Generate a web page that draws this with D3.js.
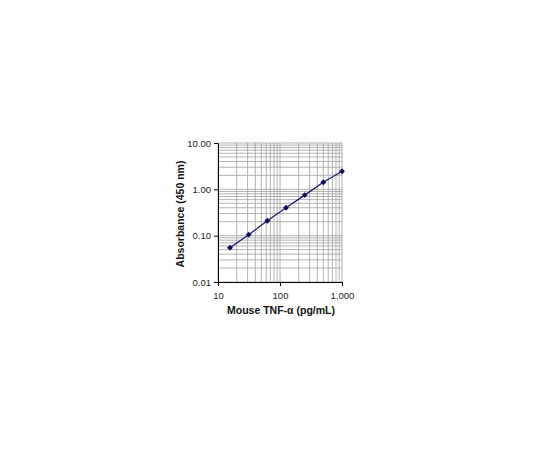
<!DOCTYPE html>
<html>
<head>
<meta charset="utf-8">
<script src="https://cdn.jsdelivr.net/npm/d3@7"></script>
<style>
  body { margin: 0; background: #fff; }
  text { font-family: "Liberation Sans", Arial, sans-serif; }
</style>
</head>
<body>
<svg id="chart" width="540" height="450"></svg>
<script>
const concentrations = [15.6, 31.25, 62.5, 125, 250, 500, 1000];
const absorbance = [0.055, 0.105, 0.21, 0.40, 0.75, 1.42, 2.45];
const xTicks = [10, 100, 1000];
const yTicks = [0.01, 0.1, 1, 10];

const svg = d3.select("#chart");
const x = d3.scaleLog().domain([10, 1000]).range([218, 342]);
const y = d3.scaleLog().domain([0.01, 10]).range([282, 143]);

// minor grid (2..9 in each decade)
const minorX = [], minorY = [];
for (const d of [10, 100]) for (let k = 1; k <= 9; k++) minorX.push(d * k);
for (const d of [0.01, 0.1, 1]) for (let k = 1; k <= 9; k++) minorY.push(d * k);

svg.append("g").selectAll("line").data(minorY).join("line")
  .attr("x1", 218).attr("x2", 342)
  .attr("y1", d => y(d)).attr("y2", d => y(d))
  .attr("stroke", "#a0a0a0").attr("stroke-width", 0.8);
svg.append("g").selectAll("line").data(minorX).join("line")
  .attr("y1", 143).attr("y2", 282)
  .attr("x1", d => x(d)).attr("x2", d => x(d))
  .attr("stroke", "#a0a0a0").attr("stroke-width", 0.8);

// frame top/right
svg.append("line").attr("x1", 218).attr("x2", 342).attr("y1", 143).attr("y2", 143)
  .attr("stroke", "#a0a0a0").attr("stroke-width", 0.8);
svg.append("line").attr("x1", 342).attr("x2", 342).attr("y1", 143).attr("y2", 282)
  .attr("stroke", "#a0a0a0").attr("stroke-width", 0.8);

// axes
const fmtY = d3.format(".2f");
const fmtX = d3.format(",");
const xAxis = svg.append("g").attr("transform", "translate(0,282)")
  .call(d3.axisBottom(x).tickValues(xTicks).tickFormat(fmtX).tickSize(4).tickSizeOuter(0));
const yAxis = svg.append("g").attr("transform", "translate(218,0)")
  .call(d3.axisLeft(y).tickValues(yTicks).tickFormat(fmtY).tickSize(4).tickSizeOuter(0));
for (const a of [xAxis, yAxis]) {
  a.select(".domain").attr("stroke", "#000");
  a.selectAll(".tick line").attr("stroke", "#000");
  a.selectAll(".tick text").attr("fill", "#222").style("font-size", "9.5px")
    .style("font-family", "'Liberation Sans', Arial, sans-serif");
}
xAxis.selectAll(".tick text").attr("dy", "1.05em");
yAxis.selectAll(".tick text").attr("x", -7);

// series
const pts = concentrations.map((c, i) => [c, absorbance[i]]);
svg.append("path").datum(pts)
  .attr("fill", "none").attr("stroke", "#1a1a6e").attr("stroke-width", 1.3)
  .attr("d", d3.line().x(d => x(d[0])).y(d => y(d[1])));
svg.append("g").selectAll("path").data(pts).join("path")
  .attr("transform", d => `translate(${x(d[0])},${y(d[1])})`)
  .attr("d", d3.symbol(d3.symbolDiamond2, 22))
  .attr("fill", "#0d0d5a");

// titles
svg.append("text").attr("x", 281).attr("y", 314).attr("text-anchor", "middle")
  .style("font-size", "10.5px").style("font-weight", "bold").attr("fill", "#111")
  .text("Mouse TNF-α (pg/mL)");
svg.append("text").attr("transform", "translate(184,214) rotate(-90)").attr("text-anchor", "middle")
  .style("font-size", "10.5px").style("font-weight", "bold").attr("fill", "#111")
  .text("Absorbance (450 nm)");
</script>
</body>
</html>
